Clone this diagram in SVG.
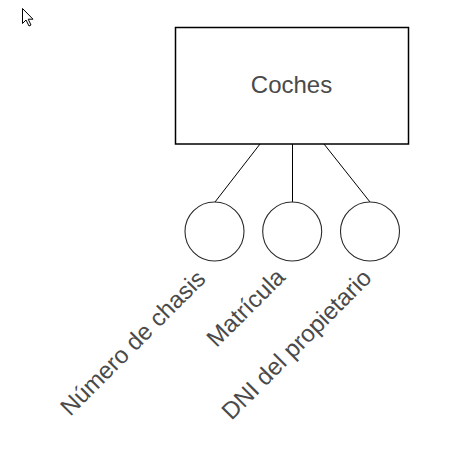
<svg xmlns="http://www.w3.org/2000/svg" width="466" height="457" viewBox="0 0 466 457">
  <style>
    .box { fill: #ffffff; stroke: #000000; stroke-width: 1.5; }
    .attr { fill: #ffffff; stroke: #2a2a2a; stroke-width: 1.1; }
    .conn { stroke: #000000; stroke-width: 1; fill: none; }
    .label { font-family: "Liberation Sans", Arial, sans-serif; font-size: 24px; fill: #4a4a4a; }
  </style>
  <rect x="0" y="0" width="466" height="457" fill="#ffffff"/>
  <g id="cursor">
    <path d="M22.5 8.5 L22.5 23.5 L26 20 L29 26 L31 25 L28.2 19.2 L33 19.2 Z" fill="#ffffff" stroke="#000000" stroke-width="1" stroke-linejoin="miter"/>
  </g>
  <g id="connectors">
    <line class="conn" x1="260" y1="144" x2="215" y2="202"/>
    <line class="conn" x1="292.5" y1="144" x2="292.5" y2="202"/>
    <line class="conn" x1="324" y1="144" x2="370" y2="202"/>
  </g>
  <g id="node-coches">
    <rect class="box" x="175.5" y="27.5" width="233" height="116.5"/>
    <text class="label" x="291.5" y="93" text-anchor="middle">Coches</text>
  </g>
  <g id="node-numero-chasis">
    <circle class="attr" cx="214.5" cy="231.5" r="29.5"/>
    <text class="label" x="207" y="280.2" text-anchor="end" transform="rotate(-45 207 280.2)">Número de chasis</text>
  </g>
  <g id="node-matricula">
    <circle class="attr" cx="292.2" cy="231.5" r="29.5"/>
    <text class="label" x="286.4" y="278.5" text-anchor="end" transform="rotate(-45 286.4 278.5)">Matrícula</text>
  </g>
  <g id="node-dni">
    <circle class="attr" cx="370" cy="231.5" r="29.5"/>
    <text class="label" x="372.9" y="279.4" text-anchor="end" transform="rotate(-45 372.9 279.4)">DNI del propietario</text>
  </g>
</svg>
